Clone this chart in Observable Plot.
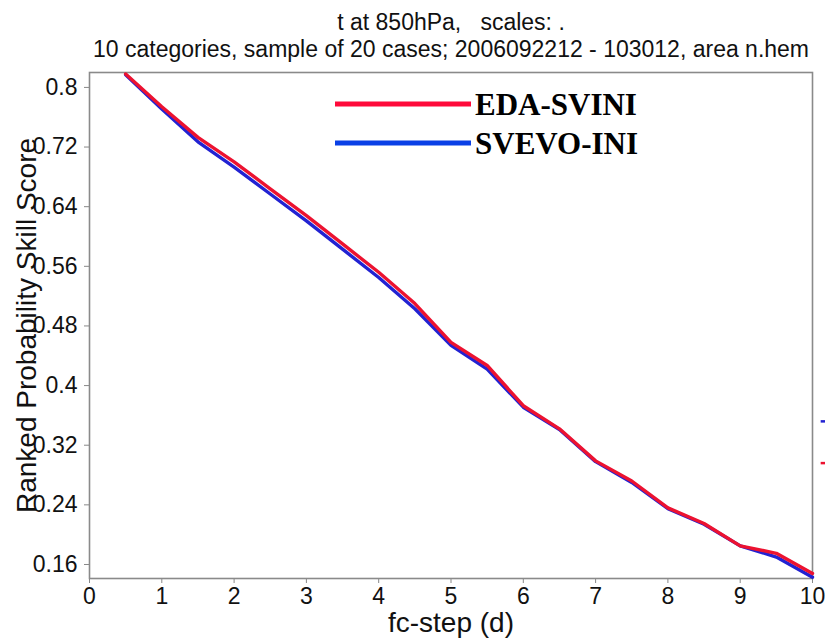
<!DOCTYPE html>
<html><head><meta charset="utf-8">
<script src="https://cdn.jsdelivr.net/npm/d3@7"></script>
<script src="https://cdn.jsdelivr.net/npm/@observablehq/plot@0.6"></script>
<style>body{margin:0;background:#fff} #chart{width:825px;height:638px}</style>
</head><body><div id="chart"></div>
<script>
const steps = [0.5,1,1.5,2,2.5,3,3.5,4,4.5,5,5.5,6,6.5,7,7.5,8,8.5,9,9.5,10];
const edaSvini = [0.818,0.774,0.733,0.700,0.664,0.628,0.590,0.552,0.510,0.458,0.427,0.373,0.342,0.299,0.272,0.236,0.215,0.185,0.175,0.148];
const svevoIni = [0.817,0.771,0.727,0.693,0.657,0.621,0.583,0.545,0.503,0.454,0.422,0.371,0.341,0.298,0.270,0.235,0.214,0.185,0.170,0.143];
const seriesNames = ["SVEVO-INI","EDA-SVINI"];
const seriesColors = ["#2222d2","#ec1230"];
const legendNames = ["EDA-SVINI","SVEVO-INI"];
const legendColors = ["#ff0a3a","#0a40e6"];
const offMarkValues = [0.352,0.296];
const offMarkColors = ["#2222d2","#ec1230"];
const xTicks = [0,1,2,3,4,5,6,7,8,9,10];
const yTicks = [0.16,0.24,0.32,0.4,0.48,0.56,0.64,0.72,0.8];
const titleLines = ["t at 850hPa,   scales: .","10 categories, sample of 20 cases; 2006092212 - 103012, area n.hem"];
const xLabel = "fc-step (d)";
const yLabel = "Ranked Probability Skill Score";

const rows = [];
[svevoIni, edaSvini].forEach((vals, i) => vals.forEach((v, j) => rows.push({step: steps[j], value: v, series: seriesNames[i]})));

const plot = Plot.plot({
  width: 825, height: 638,
  marginLeft: 89, marginRight: 13, marginTop: 72, marginBottom: 60,
  style: {fontFamily: "'Liberation Sans', Arial, Helvetica, sans-serif", fontSize: "23px", background: "#fff", color: "#111"},
  x: {domain: [0, 10]},
  y: {domain: [0.1412, 0.82]},
  color: {domain: seriesNames, range: seriesColors},
  marks: [
    Plot.axisX({ticks: xTicks, tickSize: 5, tickPadding: 4, label: null, fontSize: 23, stroke: "#888", tickFormat: d => String(d)}),
    Plot.axisY({ticks: yTicks, tickSize: 5, tickPadding: 7, label: null, fontSize: 23, stroke: "#888", tickFormat: d => String(d)}),
    Plot.frame({stroke: "#8a8a8a", strokeWidth: 1.6}),
    Plot.line(rows, {x: "step", y: "value", z: "series", stroke: "series", strokeWidth: 3.4, strokeLinejoin: "round", strokeLinecap: "round"}),
    Plot.ruleY(offMarkValues, {x1: 10.12, x2: 10.19, stroke: offMarkColors, strokeWidth: 2.5, clip: false}),
    Plot.text([titleLines[0]], {frameAnchor: "top", dy: -59, fontSize: 23, textAnchor: "middle"}),
    Plot.text([titleLines[1]], {frameAnchor: "top", dy: -32, fontSize: 23, textAnchor: "middle"}),
    Plot.text([xLabel], {frameAnchor: "bottom", dy: 53, fontSize: 28, textAnchor: "middle"}),
    Plot.text([yLabel], {frameAnchor: "left", dx: -62, rotate: -90, fontSize: 28, textAnchor: "middle"})
  ]
});

const svg = d3.select(plot);
const leg = svg.append("g").attr("text-anchor", "start");
legendNames.forEach((name, i) => {
  const y = 104 + i * 39;
  leg.append("line").attr("x1", 335).attr("x2", 471).attr("y1", y).attr("y2", y)
    .attr("stroke", legendColors[i]).attr("stroke-width", 5);
  leg.append("text").attr("x", 475).attr("y", y).attr("dy", "0.36em")
    .attr("text-anchor", "start")
    .attr("font-family", "'Liberation Serif', 'Times New Roman', serif")
    .attr("font-weight", "bold").attr("font-size", 31).attr("fill", "#000").text(name);
});

document.getElementById("chart").appendChild(plot);
</script>
</body></html>
